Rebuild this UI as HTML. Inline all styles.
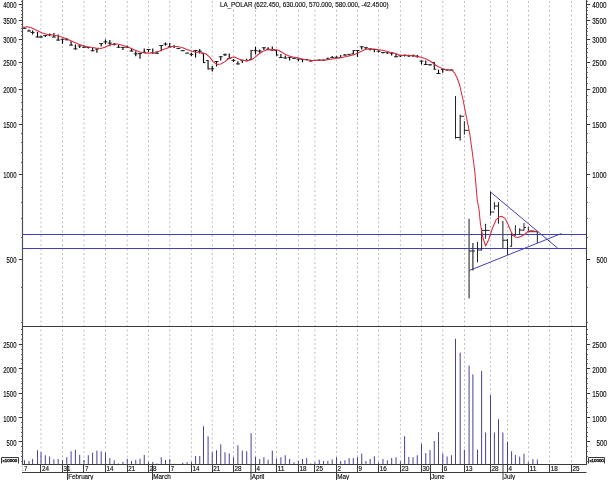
<!DOCTYPE html>
<html lang="en"><head><meta charset="utf-8"><title>LA_POLAR chart</title>
<style>
html,body{margin:0;padding:0;background:#fff;}
body{width:608px;height:480px;overflow:hidden;}
svg{display:block;font-family:"Liberation Sans",sans-serif;}
.ax{stroke:#3a3a3a;stroke-width:1;fill:none}
.gr{stroke:#c0c0c0;stroke-width:1;stroke-dasharray:2 2.5;fill:none}
.pb{stroke:#000;stroke-width:1.15;fill:none}
.rd{stroke:#dc2c3e;stroke-width:1.05;fill:none;stroke-linejoin:round}
.bl{stroke:#403eb8;stroke-width:1;fill:none}
.vb{stroke:#46429c;stroke-width:1;fill:none}
text{fill:#101010;font-size:8.2px;stroke:#101010;stroke-width:0.16px}
.pb .tk{stroke-width:0.95;stroke:#1c1c1c}
.sm{font-size:4px;fill:#111;stroke-width:0.3px}
.t2{font-size:7.6px}
.t3{font-size:6.8px}
</style></head><body>
<svg width="608" height="480" viewBox="0 0 608 480">
<rect x="0" y="0" width="608" height="480" fill="#fff"/>
<g class="gr">
<line x1="41" y1="1" x2="41" y2="464.5"/>
<line x1="62.5" y1="1" x2="62.5" y2="464.5"/>
<line x1="84" y1="1" x2="84" y2="464.5"/>
<line x1="105.5" y1="1" x2="105.5" y2="464.5"/>
<line x1="127.25" y1="1" x2="127.25" y2="464.5"/>
<line x1="148.5" y1="1" x2="148.5" y2="464.5"/>
<line x1="169.75" y1="1" x2="169.75" y2="464.5"/>
<line x1="191.4" y1="1" x2="191.4" y2="464.5"/>
<line x1="212.25" y1="1" x2="212.25" y2="464.5"/>
<line x1="233.5" y1="1" x2="233.5" y2="464.5"/>
<line x1="255.5" y1="1" x2="255.5" y2="464.5"/>
<line x1="276.5" y1="1" x2="276.5" y2="464.5"/>
<line x1="298.4" y1="1" x2="298.4" y2="464.5"/>
<line x1="314.9" y1="1" x2="314.9" y2="464.5"/>
<line x1="336.5" y1="1" x2="336.5" y2="464.5"/>
<line x1="357.5" y1="1" x2="357.5" y2="464.5"/>
<line x1="378.6" y1="1" x2="378.6" y2="464.5"/>
<line x1="400.4" y1="1" x2="400.4" y2="464.5"/>
<line x1="421.5" y1="1" x2="421.5" y2="464.5"/>
<line x1="442.75" y1="1" x2="442.75" y2="464.5"/>
<line x1="464.5" y1="1" x2="464.5" y2="464.5"/>
<line x1="490.4" y1="1" x2="490.4" y2="464.5"/>
<line x1="507.5" y1="1" x2="507.5" y2="464.5"/>
<line x1="528.5" y1="1" x2="528.5" y2="464.5"/>
<line x1="549.6" y1="1" x2="549.6" y2="464.5"/>
<line x1="571.5" y1="1" x2="571.5" y2="464.5"/>
</g>
<g class="vb">
<line x1="24.5" y1="460.25" x2="24.5" y2="464.5"/>
<line x1="29" y1="461" x2="29" y2="464.5"/>
<line x1="32.6" y1="459" x2="32.6" y2="464.5"/>
<line x1="37.5" y1="450.25" x2="37.5" y2="464.5"/>
<line x1="41" y1="452.25" x2="41" y2="464.5"/>
<line x1="45.3" y1="455.25" x2="45.3" y2="464.5"/>
<line x1="49.6" y1="456.5" x2="49.6" y2="464.5"/>
<line x1="53.9" y1="459.4" x2="53.9" y2="464.5"/>
<line x1="58.2" y1="459" x2="58.2" y2="464.5"/>
<line x1="62.5" y1="460" x2="62.5" y2="464.5"/>
<line x1="66.8" y1="457.25" x2="66.8" y2="464.5"/>
<line x1="71.1" y1="451.25" x2="71.1" y2="464.5"/>
<line x1="75.4" y1="449.75" x2="75.4" y2="464.5"/>
<line x1="79.7" y1="455" x2="79.7" y2="464.5"/>
<line x1="84" y1="460" x2="84" y2="464.5"/>
<line x1="88.3" y1="455.25" x2="88.3" y2="464.5"/>
<line x1="92.6" y1="452.75" x2="92.6" y2="464.5"/>
<line x1="96.9" y1="450.6" x2="96.9" y2="464.5"/>
<line x1="101.2" y1="451.25" x2="101.2" y2="464.5"/>
<line x1="105.5" y1="452.75" x2="105.5" y2="464.5"/>
<line x1="109.85" y1="458.1" x2="109.85" y2="464.5"/>
<line x1="114.2" y1="460.25" x2="114.2" y2="464.5"/>
<line x1="118.55" y1="463.5" x2="118.55" y2="464.5"/>
<line x1="122.9" y1="461.9" x2="122.9" y2="464.5"/>
<line x1="127.25" y1="458.75" x2="127.25" y2="464.5"/>
<line x1="131.5" y1="461" x2="131.5" y2="464.5"/>
<line x1="135.75" y1="459.75" x2="135.75" y2="464.5"/>
<line x1="140" y1="458.75" x2="140" y2="464.5"/>
<line x1="144.25" y1="455" x2="144.25" y2="464.5"/>
<line x1="148.5" y1="461.9" x2="148.5" y2="464.5"/>
<line x1="152.75" y1="461.9" x2="152.75" y2="464.5"/>
<line x1="157" y1="463.5" x2="157" y2="464.5"/>
<line x1="161.25" y1="457.25" x2="161.25" y2="464.5"/>
<line x1="165.5" y1="460" x2="165.5" y2="464.5"/>
<line x1="169.75" y1="459" x2="169.75" y2="464.5"/>
<line x1="174.08" y1="463.75" x2="174.08" y2="464.5"/>
<line x1="178.41" y1="464" x2="178.41" y2="464.5"/>
<line x1="182.74" y1="462.75" x2="182.74" y2="464.5"/>
<line x1="187.07" y1="462.25" x2="187.07" y2="464.5"/>
<line x1="191.4" y1="461.9" x2="191.4" y2="464.5"/>
<line x1="195.57" y1="456" x2="195.57" y2="464.5"/>
<line x1="199.74" y1="456" x2="199.74" y2="464.5"/>
<line x1="203.5" y1="426.25" x2="203.5" y2="464.5"/>
<line x1="208.08" y1="436.25" x2="208.08" y2="464.5"/>
<line x1="212.25" y1="452.25" x2="212.25" y2="464.5"/>
<line x1="216.5" y1="450.25" x2="216.5" y2="464.5"/>
<line x1="220.75" y1="444.4" x2="220.75" y2="464.5"/>
<line x1="225" y1="452.25" x2="225" y2="464.5"/>
<line x1="229.25" y1="453.5" x2="229.25" y2="464.5"/>
<line x1="233.5" y1="457.25" x2="233.5" y2="464.5"/>
<line x1="237.9" y1="445.25" x2="237.9" y2="464.5"/>
<line x1="242.3" y1="450.6" x2="242.3" y2="464.5"/>
<line x1="246.7" y1="451.25" x2="246.7" y2="464.5"/>
<line x1="251.1" y1="433.1" x2="251.1" y2="464.5"/>
<line x1="255.5" y1="456.9" x2="255.5" y2="464.5"/>
<line x1="259.7" y1="459" x2="259.7" y2="464.5"/>
<line x1="263.9" y1="457.25" x2="263.9" y2="464.5"/>
<line x1="268.1" y1="459.75" x2="268.1" y2="464.5"/>
<line x1="272.3" y1="450.6" x2="272.3" y2="464.5"/>
<line x1="276.5" y1="458.5" x2="276.5" y2="464.5"/>
<line x1="280.88" y1="457.25" x2="280.88" y2="464.5"/>
<line x1="285.26" y1="455.25" x2="285.26" y2="464.5"/>
<line x1="289.64" y1="459" x2="289.64" y2="464.5"/>
<line x1="294.02" y1="462.25" x2="294.02" y2="464.5"/>
<line x1="298.4" y1="461" x2="298.4" y2="464.5"/>
<line x1="302.52" y1="459" x2="302.52" y2="464.5"/>
<line x1="306.65" y1="458.1" x2="306.65" y2="464.5"/>
<line x1="310.77" y1="463.5" x2="310.77" y2="464.5"/>
<line x1="314.9" y1="462.25" x2="314.9" y2="464.5"/>
<line x1="319.22" y1="459.75" x2="319.22" y2="464.5"/>
<line x1="323.54" y1="461" x2="323.54" y2="464.5"/>
<line x1="327.86" y1="461" x2="327.86" y2="464.5"/>
<line x1="332.18" y1="459.4" x2="332.18" y2="464.5"/>
<line x1="336.5" y1="457.25" x2="336.5" y2="464.5"/>
<line x1="340.7" y1="461" x2="340.7" y2="464.5"/>
<line x1="344.9" y1="460.25" x2="344.9" y2="464.5"/>
<line x1="349.1" y1="458.1" x2="349.1" y2="464.5"/>
<line x1="353.3" y1="458.1" x2="353.3" y2="464.5"/>
<line x1="357.5" y1="457.25" x2="357.5" y2="464.5"/>
<line x1="361.72" y1="453.5" x2="361.72" y2="464.5"/>
<line x1="365.94" y1="461" x2="365.94" y2="464.5"/>
<line x1="370.16" y1="459" x2="370.16" y2="464.5"/>
<line x1="374.38" y1="456.25" x2="374.38" y2="464.5"/>
<line x1="378.6" y1="462.25" x2="378.6" y2="464.5"/>
<line x1="382.96" y1="459" x2="382.96" y2="464.5"/>
<line x1="387.32" y1="460.25" x2="387.32" y2="464.5"/>
<line x1="391.68" y1="458.1" x2="391.68" y2="464.5"/>
<line x1="396.04" y1="457.25" x2="396.04" y2="464.5"/>
<line x1="400.4" y1="461.25" x2="400.4" y2="464.5"/>
<line x1="404.62" y1="436.25" x2="404.62" y2="464.5"/>
<line x1="408.84" y1="456.9" x2="408.84" y2="464.5"/>
<line x1="413.06" y1="457.25" x2="413.06" y2="464.5"/>
<line x1="417.28" y1="455.25" x2="417.28" y2="464.5"/>
<line x1="421.5" y1="444" x2="421.5" y2="464.5"/>
<line x1="425.75" y1="453.1" x2="425.75" y2="464.5"/>
<line x1="430" y1="450" x2="430" y2="464.5"/>
<line x1="434.25" y1="441" x2="434.25" y2="464.5"/>
<line x1="438.5" y1="432.25" x2="438.5" y2="464.5"/>
<line x1="442.75" y1="453.5" x2="442.75" y2="464.5"/>
<line x1="447.1" y1="456.5" x2="447.1" y2="464.5"/>
<line x1="451.45" y1="455.25" x2="451.45" y2="464.5"/>
<line x1="455.5" y1="338.8" x2="455.5" y2="464.5"/>
<line x1="460.2" y1="352.6" x2="460.2" y2="464.5"/>
<line x1="464.4" y1="449.75" x2="464.4" y2="464.5"/>
<line x1="469.1" y1="365.5" x2="469.1" y2="464.5"/>
<line x1="472.9" y1="374.4" x2="472.9" y2="464.5"/>
<line x1="477.5" y1="449.7" x2="477.5" y2="464.5"/>
<line x1="481.6" y1="371" x2="481.6" y2="464.5"/>
<line x1="485.6" y1="432.5" x2="485.6" y2="464.5"/>
<line x1="490.5" y1="395" x2="490.5" y2="464.5"/>
<line x1="494.4" y1="432.5" x2="494.4" y2="464.5"/>
<line x1="498.5" y1="419.2" x2="498.5" y2="464.5"/>
<line x1="502.85" y1="432.5" x2="502.85" y2="464.5"/>
<line x1="507.5" y1="441.7" x2="507.5" y2="464.5"/>
<line x1="511.6" y1="451.3" x2="511.6" y2="464.5"/>
<line x1="515.4" y1="455" x2="515.4" y2="464.5"/>
<line x1="519.65" y1="456.7" x2="519.65" y2="464.5"/>
<line x1="524" y1="453.7" x2="524" y2="464.5"/>
<line x1="528.35" y1="462" x2="528.35" y2="464.5"/>
<line x1="532.9" y1="459.2" x2="532.9" y2="464.5"/>
<line x1="537.35" y1="459.5" x2="537.35" y2="464.5"/>
</g>
<g class="bl">
<line x1="22.5" y1="234.55" x2="586.5" y2="234.55" stroke-width="1.1"/>
<line x1="22.5" y1="248.55" x2="586.5" y2="248.55" stroke-width="1.1"/>
<line x1="490.4" y1="191.9" x2="557.6" y2="248.1"/>
<line x1="469.1" y1="270.6" x2="561.4" y2="233.5"/>
</g>
<g class="pb">
<line x1="24.5" y1="27.5" x2="24.5" y2="28.75"/>
<line x1="22.5" y1="28.25" x2="24.5" y2="28.25" class="tk"/>
<line x1="24.5" y1="28.25" x2="26.5" y2="28.25" class="tk"/>
<line x1="29" y1="29.4" x2="29" y2="31.5"/>
<line x1="27" y1="31" x2="29" y2="31" class="tk"/>
<line x1="29" y1="31" x2="31" y2="31" class="tk"/>
<line x1="32.6" y1="30.6" x2="32.6" y2="34.4"/>
<line x1="30.6" y1="32.5" x2="32.6" y2="32.5" class="tk"/>
<line x1="32.6" y1="32.5" x2="34.6" y2="32.5" class="tk"/>
<line x1="37.5" y1="31.9" x2="37.5" y2="37.5"/>
<line x1="35.5" y1="37" x2="37.5" y2="37" class="tk"/>
<line x1="37.5" y1="37" x2="39.5" y2="37" class="tk"/>
<line x1="41" y1="35.6" x2="41" y2="37.5"/>
<line x1="39" y1="37" x2="41" y2="37" class="tk"/>
<line x1="41" y1="37" x2="43" y2="37" class="tk"/>
<line x1="45.3" y1="35" x2="45.3" y2="36.9"/>
<line x1="43.3" y1="35.5" x2="45.3" y2="35.5" class="tk"/>
<line x1="45.3" y1="35.5" x2="47.3" y2="35.5" class="tk"/>
<line x1="49.6" y1="33.5" x2="49.6" y2="36.25"/>
<line x1="47.6" y1="34.88" x2="49.6" y2="34.88" class="tk"/>
<line x1="49.6" y1="34.88" x2="51.6" y2="34.88" class="tk"/>
<line x1="53.9" y1="33.1" x2="53.9" y2="37.5"/>
<line x1="51.9" y1="37" x2="53.9" y2="37" class="tk"/>
<line x1="53.9" y1="37" x2="55.9" y2="37" class="tk"/>
<line x1="58.2" y1="34.4" x2="58.2" y2="40.6"/>
<line x1="56.2" y1="40.1" x2="58.2" y2="40.1" class="tk"/>
<line x1="58.2" y1="40.1" x2="60.2" y2="40.1" class="tk"/>
<line x1="62.5" y1="38.75" x2="62.5" y2="43.75"/>
<line x1="60.5" y1="39.25" x2="62.5" y2="39.25" class="tk"/>
<line x1="62.5" y1="39.25" x2="64.5" y2="39.25" class="tk"/>
<line x1="66.8" y1="38.1" x2="66.8" y2="40.25"/>
<line x1="64.8" y1="39.75" x2="66.8" y2="39.75" class="tk"/>
<line x1="66.8" y1="39.75" x2="68.8" y2="39.75" class="tk"/>
<line x1="71.1" y1="41.25" x2="71.1" y2="45.6"/>
<line x1="69.1" y1="45.1" x2="71.1" y2="45.1" class="tk"/>
<line x1="71.1" y1="45.1" x2="73.1" y2="45.1" class="tk"/>
<line x1="75.4" y1="44.4" x2="75.4" y2="49.4"/>
<line x1="73.4" y1="48.9" x2="75.4" y2="48.9" class="tk"/>
<line x1="75.4" y1="48.9" x2="77.4" y2="48.9" class="tk"/>
<line x1="79.7" y1="45.4" x2="79.7" y2="48.1"/>
<line x1="77.7" y1="45.9" x2="79.7" y2="45.9" class="tk"/>
<line x1="79.7" y1="45.9" x2="81.7" y2="45.9" class="tk"/>
<line x1="84" y1="45.6" x2="84" y2="47.75"/>
<line x1="82" y1="47.25" x2="84" y2="47.25" class="tk"/>
<line x1="84" y1="47.25" x2="86" y2="47.25" class="tk"/>
<line x1="88.3" y1="46.9" x2="88.3" y2="48.5"/>
<line x1="86.3" y1="47.4" x2="88.3" y2="47.4" class="tk"/>
<line x1="88.3" y1="47.4" x2="90.3" y2="47.4" class="tk"/>
<line x1="92.6" y1="48.1" x2="92.6" y2="51.25"/>
<line x1="90.6" y1="50.75" x2="92.6" y2="50.75" class="tk"/>
<line x1="92.6" y1="50.75" x2="94.6" y2="50.75" class="tk"/>
<line x1="96.9" y1="48.5" x2="96.9" y2="52.75"/>
<line x1="94.9" y1="49" x2="96.9" y2="49" class="tk"/>
<line x1="96.9" y1="49" x2="98.9" y2="49" class="tk"/>
<line x1="101.2" y1="43.1" x2="101.2" y2="46.5"/>
<line x1="99.2" y1="43.6" x2="101.2" y2="43.6" class="tk"/>
<line x1="101.2" y1="43.6" x2="103.2" y2="43.6" class="tk"/>
<line x1="105.5" y1="39.4" x2="105.5" y2="44.4"/>
<line x1="103.5" y1="41.9" x2="105.5" y2="41.9" class="tk"/>
<line x1="105.5" y1="41.9" x2="107.5" y2="41.9" class="tk"/>
<line x1="109.85" y1="40" x2="109.85" y2="46.25"/>
<line x1="107.85" y1="43.12" x2="109.85" y2="43.12" class="tk"/>
<line x1="109.85" y1="43.12" x2="111.85" y2="43.12" class="tk"/>
<line x1="114.2" y1="43.1" x2="114.2" y2="45.6"/>
<line x1="112.2" y1="44.35" x2="114.2" y2="44.35" class="tk"/>
<line x1="114.2" y1="44.35" x2="116.2" y2="44.35" class="tk"/>
<line x1="118.55" y1="45" x2="118.55" y2="47.75"/>
<line x1="116.55" y1="47.25" x2="118.55" y2="47.25" class="tk"/>
<line x1="118.55" y1="47.25" x2="120.55" y2="47.25" class="tk"/>
<line x1="122.9" y1="46.9" x2="122.9" y2="50"/>
<line x1="120.9" y1="47.4" x2="122.9" y2="47.4" class="tk"/>
<line x1="122.9" y1="47.4" x2="124.9" y2="47.4" class="tk"/>
<line x1="127.25" y1="45.6" x2="127.25" y2="47.75"/>
<line x1="125.25" y1="47.25" x2="127.25" y2="47.25" class="tk"/>
<line x1="127.25" y1="47.25" x2="129.25" y2="47.25" class="tk"/>
<line x1="131.5" y1="48.1" x2="131.5" y2="51.5"/>
<line x1="129.5" y1="51" x2="131.5" y2="51" class="tk"/>
<line x1="131.5" y1="51" x2="133.5" y2="51" class="tk"/>
<line x1="135.75" y1="51.25" x2="135.75" y2="56.25"/>
<line x1="133.75" y1="53.75" x2="135.75" y2="53.75" class="tk"/>
<line x1="135.75" y1="53.75" x2="137.75" y2="53.75" class="tk"/>
<line x1="140" y1="53.1" x2="140" y2="58.75"/>
<line x1="138" y1="53.6" x2="140" y2="53.6" class="tk"/>
<line x1="140" y1="53.6" x2="142" y2="53.6" class="tk"/>
<line x1="144.25" y1="48.5" x2="144.25" y2="52.75"/>
<line x1="142.25" y1="52.25" x2="144.25" y2="52.25" class="tk"/>
<line x1="144.25" y1="52.25" x2="146.25" y2="52.25" class="tk"/>
<line x1="148.5" y1="49" x2="148.5" y2="51.9"/>
<line x1="146.5" y1="49.5" x2="148.5" y2="49.5" class="tk"/>
<line x1="148.5" y1="49.5" x2="150.5" y2="49.5" class="tk"/>
<line x1="152.75" y1="48.5" x2="152.75" y2="53.5"/>
<line x1="150.75" y1="53" x2="152.75" y2="53" class="tk"/>
<line x1="152.75" y1="53" x2="154.75" y2="53" class="tk"/>
<line x1="157" y1="51.25" x2="157" y2="53.75"/>
<line x1="155" y1="53.25" x2="157" y2="53.25" class="tk"/>
<line x1="157" y1="53.25" x2="159" y2="53.25" class="tk"/>
<line x1="161.25" y1="45" x2="161.25" y2="51.25"/>
<line x1="159.25" y1="45.5" x2="161.25" y2="45.5" class="tk"/>
<line x1="161.25" y1="45.5" x2="163.25" y2="45.5" class="tk"/>
<line x1="165.5" y1="42.5" x2="165.5" y2="45.6"/>
<line x1="163.5" y1="44.05" x2="165.5" y2="44.05" class="tk"/>
<line x1="165.5" y1="44.05" x2="167.5" y2="44.05" class="tk"/>
<line x1="169.75" y1="43.1" x2="169.75" y2="47.25"/>
<line x1="167.75" y1="46.75" x2="169.75" y2="46.75" class="tk"/>
<line x1="169.75" y1="46.75" x2="171.75" y2="46.75" class="tk"/>
<line x1="174.08" y1="45" x2="174.08" y2="48.1"/>
<line x1="172.08" y1="46.55" x2="174.08" y2="46.55" class="tk"/>
<line x1="174.08" y1="46.55" x2="176.08" y2="46.55" class="tk"/>
<line x1="178.41" y1="48.1" x2="178.41" y2="49"/>
<line x1="176.41" y1="48.55" x2="178.41" y2="48.55" class="tk"/>
<line x1="178.41" y1="48.55" x2="180.41" y2="48.55" class="tk"/>
<line x1="182.74" y1="50" x2="182.74" y2="51.25"/>
<line x1="180.74" y1="50.62" x2="182.74" y2="50.62" class="tk"/>
<line x1="182.74" y1="50.62" x2="184.74" y2="50.62" class="tk"/>
<line x1="187.07" y1="52.75" x2="187.07" y2="53.5"/>
<line x1="185.07" y1="53.12" x2="187.07" y2="53.12" class="tk"/>
<line x1="187.07" y1="53.12" x2="189.07" y2="53.12" class="tk"/>
<line x1="191.4" y1="52.75" x2="191.4" y2="56"/>
<line x1="189.4" y1="54.38" x2="191.4" y2="54.38" class="tk"/>
<line x1="191.4" y1="54.38" x2="193.4" y2="54.38" class="tk"/>
<line x1="195.57" y1="50" x2="195.57" y2="57.5"/>
<line x1="193.57" y1="50.5" x2="195.57" y2="50.5" class="tk"/>
<line x1="195.57" y1="50.5" x2="197.57" y2="50.5" class="tk"/>
<line x1="199.74" y1="49" x2="199.74" y2="53.5"/>
<line x1="197.74" y1="51.25" x2="199.74" y2="51.25" class="tk"/>
<line x1="199.74" y1="51.25" x2="201.74" y2="51.25" class="tk"/>
<line x1="203.5" y1="53.1" x2="203.5" y2="63.1"/>
<line x1="201.5" y1="53.6" x2="203.5" y2="53.6" class="tk"/>
<line x1="203.5" y1="62.6" x2="205.5" y2="62.6" class="tk"/>
<line x1="208.08" y1="60" x2="208.08" y2="69.4" stroke-width="1.5" stroke="#444"/>
<line x1="206.08" y1="60.5" x2="208.08" y2="60.5" class="tk"/>
<line x1="208.08" y1="68.9" x2="210.08" y2="68.9" class="tk"/>
<line x1="212.25" y1="66" x2="212.25" y2="71.5"/>
<line x1="210.25" y1="68.75" x2="212.25" y2="68.75" class="tk"/>
<line x1="212.25" y1="68.75" x2="214.25" y2="68.75" class="tk"/>
<line x1="216.5" y1="61" x2="216.5" y2="66.5"/>
<line x1="214.5" y1="61.5" x2="216.5" y2="61.5" class="tk"/>
<line x1="216.5" y1="61.5" x2="218.5" y2="61.5" class="tk"/>
<line x1="220.75" y1="56.25" x2="220.75" y2="60.6"/>
<line x1="218.75" y1="56.75" x2="220.75" y2="56.75" class="tk"/>
<line x1="220.75" y1="56.75" x2="222.75" y2="56.75" class="tk"/>
<line x1="225" y1="53.5" x2="225" y2="56"/>
<line x1="223" y1="54.75" x2="225" y2="54.75" class="tk"/>
<line x1="225" y1="54.75" x2="227" y2="54.75" class="tk"/>
<line x1="229.25" y1="53.5" x2="229.25" y2="59"/>
<line x1="227.25" y1="58.5" x2="229.25" y2="58.5" class="tk"/>
<line x1="229.25" y1="58.5" x2="231.25" y2="58.5" class="tk"/>
<line x1="233.5" y1="59" x2="233.5" y2="61.9"/>
<line x1="231.5" y1="60.45" x2="233.5" y2="60.45" class="tk"/>
<line x1="233.5" y1="60.45" x2="235.5" y2="60.45" class="tk"/>
<line x1="237.9" y1="61.25" x2="237.9" y2="64.4"/>
<line x1="235.9" y1="63.9" x2="237.9" y2="63.9" class="tk"/>
<line x1="237.9" y1="63.9" x2="239.9" y2="63.9" class="tk"/>
<line x1="242.3" y1="59.75" x2="242.3" y2="63.1"/>
<line x1="240.3" y1="60.25" x2="242.3" y2="60.25" class="tk"/>
<line x1="242.3" y1="60.25" x2="244.3" y2="60.25" class="tk"/>
<line x1="246.7" y1="58.75" x2="246.7" y2="61.25"/>
<line x1="244.7" y1="60.75" x2="246.7" y2="60.75" class="tk"/>
<line x1="246.7" y1="60.75" x2="248.7" y2="60.75" class="tk"/>
<line x1="251.1" y1="50" x2="251.1" y2="60" stroke-width="1.5" stroke="#444"/>
<line x1="249.1" y1="59.5" x2="251.1" y2="59.5" class="tk"/>
<line x1="251.1" y1="50.5" x2="253.1" y2="50.5" class="tk"/>
<line x1="255.5" y1="46.9" x2="255.5" y2="54.4"/>
<line x1="253.5" y1="50.65" x2="255.5" y2="50.65" class="tk"/>
<line x1="255.5" y1="50.65" x2="257.5" y2="50.65" class="tk"/>
<line x1="259.7" y1="49.4" x2="259.7" y2="52.75"/>
<line x1="257.7" y1="51.08" x2="259.7" y2="51.08" class="tk"/>
<line x1="259.7" y1="51.08" x2="261.7" y2="51.08" class="tk"/>
<line x1="263.9" y1="47.25" x2="263.9" y2="50"/>
<line x1="261.9" y1="47.75" x2="263.9" y2="47.75" class="tk"/>
<line x1="263.9" y1="47.75" x2="265.9" y2="47.75" class="tk"/>
<line x1="268.1" y1="47.25" x2="268.1" y2="49.75"/>
<line x1="266.1" y1="49.25" x2="268.1" y2="49.25" class="tk"/>
<line x1="268.1" y1="49.25" x2="270.1" y2="49.25" class="tk"/>
<line x1="272.3" y1="46.5" x2="272.3" y2="50.6"/>
<line x1="270.3" y1="50.1" x2="272.3" y2="50.1" class="tk"/>
<line x1="272.3" y1="50.1" x2="274.3" y2="50.1" class="tk"/>
<line x1="276.5" y1="50" x2="276.5" y2="55.6"/>
<line x1="274.5" y1="50.5" x2="276.5" y2="50.5" class="tk"/>
<line x1="276.5" y1="55.1" x2="278.5" y2="55.1" class="tk"/>
<line x1="280.88" y1="54" x2="280.88" y2="58.1"/>
<line x1="278.88" y1="57.6" x2="280.88" y2="57.6" class="tk"/>
<line x1="280.88" y1="57.6" x2="282.88" y2="57.6" class="tk"/>
<line x1="285.26" y1="55.6" x2="285.26" y2="58.5"/>
<line x1="283.26" y1="58" x2="285.26" y2="58" class="tk"/>
<line x1="285.26" y1="58" x2="287.26" y2="58" class="tk"/>
<line x1="289.64" y1="56.9" x2="289.64" y2="60.6"/>
<line x1="287.64" y1="57.4" x2="289.64" y2="57.4" class="tk"/>
<line x1="289.64" y1="57.4" x2="291.64" y2="57.4" class="tk"/>
<line x1="294.02" y1="57.5" x2="294.02" y2="59"/>
<line x1="292.02" y1="58.25" x2="294.02" y2="58.25" class="tk"/>
<line x1="294.02" y1="58.25" x2="296.02" y2="58.25" class="tk"/>
<line x1="298.4" y1="58.5" x2="298.4" y2="61.25"/>
<line x1="296.4" y1="59" x2="298.4" y2="59" class="tk"/>
<line x1="298.4" y1="59" x2="300.4" y2="59" class="tk"/>
<line x1="302.52" y1="59" x2="302.52" y2="62.25"/>
<line x1="300.52" y1="59.5" x2="302.52" y2="59.5" class="tk"/>
<line x1="302.52" y1="59.5" x2="304.52" y2="59.5" class="tk"/>
<line x1="306.65" y1="59" x2="306.65" y2="60.25"/>
<line x1="304.65" y1="59.62" x2="306.65" y2="59.62" class="tk"/>
<line x1="306.65" y1="59.62" x2="308.65" y2="59.62" class="tk"/>
<line x1="310.77" y1="59.75" x2="310.77" y2="61.5"/>
<line x1="308.77" y1="61" x2="310.77" y2="61" class="tk"/>
<line x1="310.77" y1="61" x2="312.77" y2="61" class="tk"/>
<line x1="314.9" y1="59.75" x2="314.9" y2="61"/>
<line x1="312.9" y1="60.38" x2="314.9" y2="60.38" class="tk"/>
<line x1="314.9" y1="60.38" x2="316.9" y2="60.38" class="tk"/>
<line x1="319.22" y1="59.5" x2="319.22" y2="60.75"/>
<line x1="317.22" y1="60.12" x2="319.22" y2="60.12" class="tk"/>
<line x1="319.22" y1="60.12" x2="321.22" y2="60.12" class="tk"/>
<line x1="323.54" y1="59.5" x2="323.54" y2="60.75"/>
<line x1="321.54" y1="60.12" x2="323.54" y2="60.12" class="tk"/>
<line x1="323.54" y1="60.12" x2="325.54" y2="60.12" class="tk"/>
<line x1="327.86" y1="57.5" x2="327.86" y2="59.4"/>
<line x1="325.86" y1="58.9" x2="327.86" y2="58.9" class="tk"/>
<line x1="327.86" y1="58.9" x2="329.86" y2="58.9" class="tk"/>
<line x1="332.18" y1="56" x2="332.18" y2="58.1"/>
<line x1="330.18" y1="57.6" x2="332.18" y2="57.6" class="tk"/>
<line x1="332.18" y1="57.6" x2="334.18" y2="57.6" class="tk"/>
<line x1="336.5" y1="56.25" x2="336.5" y2="57.75"/>
<line x1="334.5" y1="57.25" x2="336.5" y2="57.25" class="tk"/>
<line x1="336.5" y1="57.25" x2="338.5" y2="57.25" class="tk"/>
<line x1="340.7" y1="55" x2="340.7" y2="58.1"/>
<line x1="338.7" y1="57.6" x2="340.7" y2="57.6" class="tk"/>
<line x1="340.7" y1="57.6" x2="342.7" y2="57.6" class="tk"/>
<line x1="344.9" y1="54" x2="344.9" y2="55.6"/>
<line x1="342.9" y1="55.1" x2="344.9" y2="55.1" class="tk"/>
<line x1="344.9" y1="55.1" x2="346.9" y2="55.1" class="tk"/>
<line x1="349.1" y1="53.75" x2="349.1" y2="55.25"/>
<line x1="347.1" y1="54.75" x2="349.1" y2="54.75" class="tk"/>
<line x1="349.1" y1="54.75" x2="351.1" y2="54.75" class="tk"/>
<line x1="353.3" y1="50" x2="353.3" y2="54.4"/>
<line x1="351.3" y1="53.9" x2="353.3" y2="53.9" class="tk"/>
<line x1="353.3" y1="50.5" x2="355.3" y2="50.5" class="tk"/>
<line x1="357.5" y1="50" x2="357.5" y2="56.9"/>
<line x1="355.5" y1="50.5" x2="357.5" y2="50.5" class="tk"/>
<line x1="357.5" y1="50.5" x2="359.5" y2="50.5" class="tk"/>
<line x1="361.72" y1="46.25" x2="361.72" y2="49.4"/>
<line x1="359.72" y1="46.75" x2="361.72" y2="46.75" class="tk"/>
<line x1="361.72" y1="46.75" x2="363.72" y2="46.75" class="tk"/>
<line x1="365.94" y1="47.25" x2="365.94" y2="49.4"/>
<line x1="363.94" y1="47.75" x2="365.94" y2="47.75" class="tk"/>
<line x1="365.94" y1="47.75" x2="367.94" y2="47.75" class="tk"/>
<line x1="370.16" y1="48.5" x2="370.16" y2="50.6"/>
<line x1="368.16" y1="49" x2="370.16" y2="49" class="tk"/>
<line x1="370.16" y1="49" x2="372.16" y2="49" class="tk"/>
<line x1="374.38" y1="49" x2="374.38" y2="52.25"/>
<line x1="372.38" y1="49.5" x2="374.38" y2="49.5" class="tk"/>
<line x1="374.38" y1="49.5" x2="376.38" y2="49.5" class="tk"/>
<line x1="378.6" y1="50.6" x2="378.6" y2="52.5"/>
<line x1="376.6" y1="51.1" x2="378.6" y2="51.1" class="tk"/>
<line x1="378.6" y1="51.1" x2="380.6" y2="51.1" class="tk"/>
<line x1="382.96" y1="51.9" x2="382.96" y2="53.5"/>
<line x1="380.96" y1="52.4" x2="382.96" y2="52.4" class="tk"/>
<line x1="382.96" y1="52.4" x2="384.96" y2="52.4" class="tk"/>
<line x1="387.32" y1="52.25" x2="387.32" y2="53.75"/>
<line x1="385.32" y1="52.75" x2="387.32" y2="52.75" class="tk"/>
<line x1="387.32" y1="52.75" x2="389.32" y2="52.75" class="tk"/>
<line x1="391.68" y1="52.75" x2="391.68" y2="55.6"/>
<line x1="389.68" y1="53.25" x2="391.68" y2="53.25" class="tk"/>
<line x1="391.68" y1="53.25" x2="393.68" y2="53.25" class="tk"/>
<line x1="396.04" y1="53.5" x2="396.04" y2="57.25"/>
<line x1="394.04" y1="56.75" x2="396.04" y2="56.75" class="tk"/>
<line x1="396.04" y1="56.75" x2="398.04" y2="56.75" class="tk"/>
<line x1="400.4" y1="54.75" x2="400.4" y2="56.9"/>
<line x1="398.4" y1="55.83" x2="400.4" y2="55.83" class="tk"/>
<line x1="400.4" y1="55.83" x2="402.4" y2="55.83" class="tk"/>
<line x1="404.62" y1="54.4" x2="404.62" y2="56.5"/>
<line x1="402.62" y1="55.45" x2="404.62" y2="55.45" class="tk"/>
<line x1="404.62" y1="55.45" x2="406.62" y2="55.45" class="tk"/>
<line x1="408.84" y1="54.75" x2="408.84" y2="56.9"/>
<line x1="406.84" y1="55.83" x2="408.84" y2="55.83" class="tk"/>
<line x1="408.84" y1="55.83" x2="410.84" y2="55.83" class="tk"/>
<line x1="413.06" y1="54.4" x2="413.06" y2="56.9"/>
<line x1="411.06" y1="55.65" x2="413.06" y2="55.65" class="tk"/>
<line x1="413.06" y1="55.65" x2="415.06" y2="55.65" class="tk"/>
<line x1="417.28" y1="55" x2="417.28" y2="57.75"/>
<line x1="415.28" y1="56.38" x2="417.28" y2="56.38" class="tk"/>
<line x1="417.28" y1="56.38" x2="419.28" y2="56.38" class="tk"/>
<line x1="421.5" y1="60.6" x2="421.5" y2="64.4"/>
<line x1="419.5" y1="61.1" x2="421.5" y2="61.1" class="tk"/>
<line x1="421.5" y1="61.1" x2="423.5" y2="61.1" class="tk"/>
<line x1="425.75" y1="60.6" x2="425.75" y2="65"/>
<line x1="423.75" y1="64.5" x2="425.75" y2="64.5" class="tk"/>
<line x1="425.75" y1="64.5" x2="427.75" y2="64.5" class="tk"/>
<line x1="430" y1="64" x2="430" y2="65.6"/>
<line x1="428" y1="64.8" x2="430" y2="64.8" class="tk"/>
<line x1="430" y1="64.8" x2="432" y2="64.8" class="tk"/>
<line x1="434.25" y1="61.9" x2="434.25" y2="69.75"/>
<line x1="432.25" y1="62.4" x2="434.25" y2="62.4" class="tk"/>
<line x1="434.25" y1="69.25" x2="436.25" y2="69.25" class="tk"/>
<line x1="438.5" y1="69.75" x2="438.5" y2="74"/>
<line x1="436.5" y1="73.5" x2="438.5" y2="73.5" class="tk"/>
<line x1="438.5" y1="73.5" x2="440.5" y2="73.5" class="tk"/>
<line x1="442.75" y1="69" x2="442.75" y2="72.75"/>
<line x1="440.75" y1="69.5" x2="442.75" y2="69.5" class="tk"/>
<line x1="442.75" y1="69.5" x2="444.75" y2="69.5" class="tk"/>
<line x1="447.1" y1="69.4" x2="447.1" y2="70.6"/>
<line x1="445.1" y1="70" x2="447.1" y2="70" class="tk"/>
<line x1="447.1" y1="70" x2="449.1" y2="70" class="tk"/>
<line x1="451.45" y1="69.4" x2="451.45" y2="70.6"/>
<line x1="449.45" y1="70" x2="451.45" y2="70" class="tk"/>
<line x1="451.45" y1="70" x2="453.45" y2="70" class="tk"/>
<line x1="455.5" y1="96" x2="455.5" y2="138.75" stroke-width="1" stroke="#242424"/>
<line x1="455.5" y1="137.5" x2="460.2" y2="137.5" class="tk"/>
<line x1="460.2" y1="114.75" x2="460.2" y2="140.6" stroke-width="1.2" stroke="#333"/>
<line x1="460.2" y1="116.25" x2="464.2" y2="116.25" class="tk"/>
<line x1="464.4" y1="121.1" x2="464.4" y2="134.6" stroke-width="1" stroke="#242424"/>
<line x1="464.4" y1="130.3" x2="468.9" y2="130.3" class="tk"/>
<line x1="469.1" y1="218.75" x2="469.1" y2="298.5" stroke-width="1.35" stroke="#555"/>
<line x1="469.1" y1="251" x2="472.9" y2="251" class="tk"/>
<line x1="472.9" y1="243.1" x2="472.9" y2="270.6" stroke-width="1.2" stroke="#333"/>
<line x1="472.9" y1="251" x2="475" y2="251" class="tk"/>
<line x1="477.5" y1="241.9" x2="477.5" y2="262.25" stroke-width="1" stroke="#242424"/>
<line x1="477.5" y1="250" x2="481.6" y2="250" class="tk"/>
<line x1="481.6" y1="228" x2="481.6" y2="250.6" stroke-width="1" stroke="#242424"/>
<line x1="481.6" y1="230.4" x2="485.6" y2="230.4" class="tk"/>
<line x1="485.6" y1="223.75" x2="485.6" y2="238.75" stroke-width="1" stroke="#242424"/>
<line x1="485.6" y1="230.4" x2="489.6" y2="230.4" class="tk"/>
<line x1="490.5" y1="191.9" x2="490.5" y2="215.6" stroke-width="1" stroke="#242424"/>
<line x1="490.5" y1="212" x2="494.3" y2="212" class="tk"/>
<line x1="494.4" y1="202.25" x2="494.4" y2="209.6" stroke-width="1" stroke="#242424"/>
<line x1="494.4" y1="206" x2="498.5" y2="206" class="tk"/>
<line x1="498.5" y1="202.25" x2="498.5" y2="223.75" stroke-width="1" stroke="#242424"/>
<line x1="502.85" y1="221.1" x2="502.85" y2="247.9" stroke-width="1.35" stroke="#555"/>
<line x1="502.85" y1="240.25" x2="507.4" y2="240.25" class="tk"/>
<line x1="507.5" y1="239" x2="507.5" y2="255" stroke-width="1" stroke="#242424"/>
<line x1="511.6" y1="232.4" x2="511.6" y2="246.6" stroke-width="1" stroke="#242424"/>
<line x1="510" y1="246.3" x2="511.6" y2="246.3" class="tk"/>
<line x1="511.6" y1="235" x2="515.4" y2="235" class="tk"/>
<line x1="515.4" y1="225.25" x2="515.4" y2="235.75" stroke-width="1" stroke="#242424"/>
<line x1="519.65" y1="228.25" x2="519.65" y2="234.6" stroke-width="1" stroke="#242424"/>
<line x1="519.65" y1="230.1" x2="524" y2="230.1" class="tk"/>
<line x1="524" y1="223" x2="524" y2="230.5" stroke-width="1" stroke="#242424"/>
<line x1="524" y1="227.5" x2="526" y2="227.5" class="tk"/>
<line x1="528.35" y1="226.75" x2="528.35" y2="232.4" stroke-width="1" stroke="#242424"/>
<line x1="528.35" y1="231.7" x2="537.3" y2="231.7" class="tk"/>
<line x1="537.35" y1="231.25" x2="537.35" y2="242.9" stroke-width="1" stroke="#242424"/>
</g>
<path class="rd" d="M22.5 27.5 L27.5 26.75 L32.5 28.25 L37.5 30.75 L42.5 33 L47.5 34.5 L52.5 35 L57.5 35.75 L62.5 37.25 L67.5 39.25 L72.5 41.5 L77.5 43.75 L82.5 45.5 L87.5 46.75 L92.5 47.5 L96 48.1 L101 48.5 L105.4 46.9 L109.75 45 L114.75 43.75 L119.75 44.4 L124.75 45.9 L129.75 47.75 L134.75 50 L139.75 52.1 L144.75 53.1 L149.75 53.1 L154.75 52.25 L159.75 50.9 L164.75 49 L169.75 47.25 L172 46.5 L177 46.5 L182 47.5 L187 49.4 L192 51.25 L197 52.5 L202 52.75 L205.75 53.75 L209.5 56.9 L213.25 61.9 L217 64.4 L220.75 64 L224.5 61.9 L228.25 59 L232 57.25 L234.5 57.1 L238.25 58.75 L242 60.25 L245.75 60.6 L248 60.6 L251.75 59.75 L255.5 56.9 L259.25 53.75 L263 51.25 L266.75 50 L270.5 49.6 L274.25 49.6 L278 50 L281.75 52.25 L285.5 54.4 L289.25 56 L293 57.1 L296.75 57.5 L300.5 58.5 L304.25 59.4 L308 60 L311.75 60.4 L315.5 60.4 L319.25 60.25 L324 60.25 L329 59.4 L334 58.75 L339 58.1 L344 56.9 L349 55.9 L354 54.75 L357.75 53.1 L361.5 51.25 L365.25 49.6 L369 48.75 L374 49 L379 49.75 L384 50.6 L389 51.9 L394 53.1 L400 55.3 L405 55.25 L410 55.6 L415 56 L420 56.9 L425 58.5 L430 61 L433.75 63.75 L437.5 66.25 L441.25 68.1 L445 69.4 L448.75 69.75 L452.5 70.6 L455 73.75 L457.5 78.75 L460 86.25 L461.9 95 L463.1 100 L466 115 L469.75 133.75 L472 150 L474.75 171.25 L477.25 200 L479.1 210 L480.4 223.75 L482.9 237.5 L485.6 246 L488.5 240 L492.25 228.75 L496 220 L499.1 216.9 L501.6 216.25 L504.75 218.1 L507.5 223 L510.5 230.5 L512.75 235 L515 236.9 L518 237.4 L521 236.5 L524.75 234.25 L527.75 231.6 L530 230.65 L533 230.65 L536 231.4 L537.35 232"/>
<g class="ax">
<line x1="22.5" y1="0" x2="22.5" y2="465" stroke="#4c4c4c" stroke-width="1.15"/>
<line x1="586.5" y1="0" x2="586.5" y2="465"/>
<line x1="22" y1="326.5" x2="587" y2="326.5"/>
<line x1="22" y1="464.5" x2="587" y2="464.5"/>
<line x1="22" y1="472.5" x2="586.5" y2="472.5"/>
<line x1="21.1" y1="322.5" x2="22.5" y2="322.5" stroke="#5a5a5a"/>
<line x1="586.5" y1="322.5" x2="587.9" y2="322.5" stroke="#5a5a5a"/>
<line x1="21.1" y1="287.5" x2="22.5" y2="287.5" stroke="#5a5a5a"/>
<line x1="586.5" y1="287.5" x2="587.9" y2="287.5" stroke="#5a5a5a"/>
<line x1="18.8" y1="259.5" x2="22.5" y2="259.5"/>
<line x1="586.5" y1="259.5" x2="590.2" y2="259.5"/>
<line x1="21.1" y1="237.5" x2="22.5" y2="237.5" stroke="#5a5a5a"/>
<line x1="586.5" y1="237.5" x2="587.9" y2="237.5" stroke="#5a5a5a"/>
<line x1="21.1" y1="218.5" x2="22.5" y2="218.5" stroke="#5a5a5a"/>
<line x1="586.5" y1="218.5" x2="587.9" y2="218.5" stroke="#5a5a5a"/>
<line x1="21.1" y1="202.5" x2="22.5" y2="202.5" stroke="#5a5a5a"/>
<line x1="586.5" y1="202.5" x2="587.9" y2="202.5" stroke="#5a5a5a"/>
<line x1="21.1" y1="187.5" x2="22.5" y2="187.5" stroke="#5a5a5a"/>
<line x1="586.5" y1="187.5" x2="587.9" y2="187.5" stroke="#5a5a5a"/>
<line x1="18.8" y1="174.5" x2="22.5" y2="174.5"/>
<line x1="586.5" y1="174.5" x2="590.2" y2="174.5"/>
<line x1="21.1" y1="162.5" x2="22.5" y2="162.5" stroke="#5a5a5a"/>
<line x1="586.5" y1="162.5" x2="587.9" y2="162.5" stroke="#5a5a5a"/>
<line x1="21.1" y1="152.5" x2="22.5" y2="152.5" stroke="#5a5a5a"/>
<line x1="586.5" y1="152.5" x2="587.9" y2="152.5" stroke="#5a5a5a"/>
<line x1="21.1" y1="142.5" x2="22.5" y2="142.5" stroke="#5a5a5a"/>
<line x1="586.5" y1="142.5" x2="587.9" y2="142.5" stroke="#5a5a5a"/>
<line x1="21.1" y1="133.5" x2="22.5" y2="133.5" stroke="#5a5a5a"/>
<line x1="586.5" y1="133.5" x2="587.9" y2="133.5" stroke="#5a5a5a"/>
<line x1="18.8" y1="124.5" x2="22.5" y2="124.5"/>
<line x1="586.5" y1="124.5" x2="590.2" y2="124.5"/>
<line x1="21.1" y1="116.5" x2="22.5" y2="116.5" stroke="#5a5a5a"/>
<line x1="586.5" y1="116.5" x2="587.9" y2="116.5" stroke="#5a5a5a"/>
<line x1="21.1" y1="109.5" x2="22.5" y2="109.5" stroke="#5a5a5a"/>
<line x1="586.5" y1="109.5" x2="587.9" y2="109.5" stroke="#5a5a5a"/>
<line x1="21.1" y1="102.5" x2="22.5" y2="102.5" stroke="#5a5a5a"/>
<line x1="586.5" y1="102.5" x2="587.9" y2="102.5" stroke="#5a5a5a"/>
<line x1="21.1" y1="95.5" x2="22.5" y2="95.5" stroke="#5a5a5a"/>
<line x1="586.5" y1="95.5" x2="587.9" y2="95.5" stroke="#5a5a5a"/>
<line x1="18.8" y1="89.5" x2="22.5" y2="89.5"/>
<line x1="586.5" y1="89.5" x2="590.2" y2="89.5"/>
<line x1="21.1" y1="83.5" x2="22.5" y2="83.5" stroke="#5a5a5a"/>
<line x1="586.5" y1="83.5" x2="587.9" y2="83.5" stroke="#5a5a5a"/>
<line x1="21.1" y1="77.5" x2="22.5" y2="77.5" stroke="#5a5a5a"/>
<line x1="586.5" y1="77.5" x2="587.9" y2="77.5" stroke="#5a5a5a"/>
<line x1="21.1" y1="72.5" x2="22.5" y2="72.5" stroke="#5a5a5a"/>
<line x1="586.5" y1="72.5" x2="587.9" y2="72.5" stroke="#5a5a5a"/>
<line x1="21.1" y1="67.5" x2="22.5" y2="67.5" stroke="#5a5a5a"/>
<line x1="586.5" y1="67.5" x2="587.9" y2="67.5" stroke="#5a5a5a"/>
<line x1="18.8" y1="62.5" x2="22.5" y2="62.5"/>
<line x1="586.5" y1="62.5" x2="590.2" y2="62.5"/>
<line x1="21.1" y1="57.5" x2="22.5" y2="57.5" stroke="#5a5a5a"/>
<line x1="586.5" y1="57.5" x2="587.9" y2="57.5" stroke="#5a5a5a"/>
<line x1="21.1" y1="52.5" x2="22.5" y2="52.5" stroke="#5a5a5a"/>
<line x1="586.5" y1="52.5" x2="587.9" y2="52.5" stroke="#5a5a5a"/>
<line x1="21.1" y1="48.5" x2="22.5" y2="48.5" stroke="#5a5a5a"/>
<line x1="586.5" y1="48.5" x2="587.9" y2="48.5" stroke="#5a5a5a"/>
<line x1="21.1" y1="44.5" x2="22.5" y2="44.5" stroke="#5a5a5a"/>
<line x1="586.5" y1="44.5" x2="587.9" y2="44.5" stroke="#5a5a5a"/>
<line x1="18.8" y1="39.5" x2="22.5" y2="39.5"/>
<line x1="586.5" y1="39.5" x2="590.2" y2="39.5"/>
<line x1="21.1" y1="35.5" x2="22.5" y2="35.5" stroke="#5a5a5a"/>
<line x1="586.5" y1="35.5" x2="587.9" y2="35.5" stroke="#5a5a5a"/>
<line x1="21.1" y1="31.5" x2="22.5" y2="31.5" stroke="#5a5a5a"/>
<line x1="586.5" y1="31.5" x2="587.9" y2="31.5" stroke="#5a5a5a"/>
<line x1="21.1" y1="28.5" x2="22.5" y2="28.5" stroke="#5a5a5a"/>
<line x1="586.5" y1="28.5" x2="587.9" y2="28.5" stroke="#5a5a5a"/>
<line x1="21.1" y1="24.5" x2="22.5" y2="24.5" stroke="#5a5a5a"/>
<line x1="586.5" y1="24.5" x2="587.9" y2="24.5" stroke="#5a5a5a"/>
<line x1="18.8" y1="20.5" x2="22.5" y2="20.5"/>
<line x1="586.5" y1="20.5" x2="590.2" y2="20.5"/>
<line x1="21.1" y1="17.5" x2="22.5" y2="17.5" stroke="#5a5a5a"/>
<line x1="586.5" y1="17.5" x2="587.9" y2="17.5" stroke="#5a5a5a"/>
<line x1="21.1" y1="14.5" x2="22.5" y2="14.5" stroke="#5a5a5a"/>
<line x1="586.5" y1="14.5" x2="587.9" y2="14.5" stroke="#5a5a5a"/>
<line x1="21.1" y1="10.5" x2="22.5" y2="10.5" stroke="#5a5a5a"/>
<line x1="586.5" y1="10.5" x2="587.9" y2="10.5" stroke="#5a5a5a"/>
<line x1="21.1" y1="7.5" x2="22.5" y2="7.5" stroke="#5a5a5a"/>
<line x1="586.5" y1="7.5" x2="587.9" y2="7.5" stroke="#5a5a5a"/>
<line x1="18.8" y1="4.5" x2="22.5" y2="4.5"/>
<line x1="586.5" y1="4.5" x2="590.2" y2="4.5"/>
<line x1="21.1" y1="1.5" x2="22.5" y2="1.5" stroke="#5a5a5a"/>
<line x1="586.5" y1="1.5" x2="587.9" y2="1.5" stroke="#5a5a5a"/>
<line x1="21.1" y1="461.5" x2="22.5" y2="461.5" stroke="#5a5a5a"/>
<line x1="586.5" y1="461.5" x2="587.9" y2="461.5" stroke="#5a5a5a"/>
<line x1="21.1" y1="456.5" x2="22.5" y2="456.5" stroke="#5a5a5a"/>
<line x1="586.5" y1="456.5" x2="587.9" y2="456.5" stroke="#5a5a5a"/>
<line x1="21.1" y1="451.5" x2="22.5" y2="451.5" stroke="#5a5a5a"/>
<line x1="586.5" y1="451.5" x2="587.9" y2="451.5" stroke="#5a5a5a"/>
<line x1="21.1" y1="446.5" x2="22.5" y2="446.5" stroke="#5a5a5a"/>
<line x1="586.5" y1="446.5" x2="587.9" y2="446.5" stroke="#5a5a5a"/>
<line x1="18.8" y1="441.5" x2="22.5" y2="441.5"/>
<line x1="586.5" y1="441.5" x2="590.2" y2="441.5"/>
<line x1="21.1" y1="436.5" x2="22.5" y2="436.5" stroke="#5a5a5a"/>
<line x1="586.5" y1="436.5" x2="587.9" y2="436.5" stroke="#5a5a5a"/>
<line x1="21.1" y1="432.5" x2="22.5" y2="432.5" stroke="#5a5a5a"/>
<line x1="586.5" y1="432.5" x2="587.9" y2="432.5" stroke="#5a5a5a"/>
<line x1="21.1" y1="427.5" x2="22.5" y2="427.5" stroke="#5a5a5a"/>
<line x1="586.5" y1="427.5" x2="587.9" y2="427.5" stroke="#5a5a5a"/>
<line x1="21.1" y1="422.5" x2="22.5" y2="422.5" stroke="#5a5a5a"/>
<line x1="586.5" y1="422.5" x2="587.9" y2="422.5" stroke="#5a5a5a"/>
<line x1="18.8" y1="417.5" x2="22.5" y2="417.5"/>
<line x1="586.5" y1="417.5" x2="590.2" y2="417.5"/>
<line x1="21.1" y1="412.5" x2="22.5" y2="412.5" stroke="#5a5a5a"/>
<line x1="586.5" y1="412.5" x2="587.9" y2="412.5" stroke="#5a5a5a"/>
<line x1="21.1" y1="407.5" x2="22.5" y2="407.5" stroke="#5a5a5a"/>
<line x1="586.5" y1="407.5" x2="587.9" y2="407.5" stroke="#5a5a5a"/>
<line x1="21.1" y1="402.5" x2="22.5" y2="402.5" stroke="#5a5a5a"/>
<line x1="586.5" y1="402.5" x2="587.9" y2="402.5" stroke="#5a5a5a"/>
<line x1="21.1" y1="398.5" x2="22.5" y2="398.5" stroke="#5a5a5a"/>
<line x1="586.5" y1="398.5" x2="587.9" y2="398.5" stroke="#5a5a5a"/>
<line x1="18.8" y1="393.5" x2="22.5" y2="393.5"/>
<line x1="586.5" y1="393.5" x2="590.2" y2="393.5"/>
<line x1="21.1" y1="388.5" x2="22.5" y2="388.5" stroke="#5a5a5a"/>
<line x1="586.5" y1="388.5" x2="587.9" y2="388.5" stroke="#5a5a5a"/>
<line x1="21.1" y1="383.5" x2="22.5" y2="383.5" stroke="#5a5a5a"/>
<line x1="586.5" y1="383.5" x2="587.9" y2="383.5" stroke="#5a5a5a"/>
<line x1="21.1" y1="378.5" x2="22.5" y2="378.5" stroke="#5a5a5a"/>
<line x1="586.5" y1="378.5" x2="587.9" y2="378.5" stroke="#5a5a5a"/>
<line x1="21.1" y1="373.5" x2="22.5" y2="373.5" stroke="#5a5a5a"/>
<line x1="586.5" y1="373.5" x2="587.9" y2="373.5" stroke="#5a5a5a"/>
<line x1="18.8" y1="368.5" x2="22.5" y2="368.5"/>
<line x1="586.5" y1="368.5" x2="590.2" y2="368.5"/>
<line x1="21.1" y1="363.5" x2="22.5" y2="363.5" stroke="#5a5a5a"/>
<line x1="586.5" y1="363.5" x2="587.9" y2="363.5" stroke="#5a5a5a"/>
<line x1="21.1" y1="359.5" x2="22.5" y2="359.5" stroke="#5a5a5a"/>
<line x1="586.5" y1="359.5" x2="587.9" y2="359.5" stroke="#5a5a5a"/>
<line x1="21.1" y1="354.5" x2="22.5" y2="354.5" stroke="#5a5a5a"/>
<line x1="586.5" y1="354.5" x2="587.9" y2="354.5" stroke="#5a5a5a"/>
<line x1="21.1" y1="349.5" x2="22.5" y2="349.5" stroke="#5a5a5a"/>
<line x1="586.5" y1="349.5" x2="587.9" y2="349.5" stroke="#5a5a5a"/>
<line x1="18.8" y1="344.5" x2="22.5" y2="344.5"/>
<line x1="586.5" y1="344.5" x2="590.2" y2="344.5"/>
<line x1="21.1" y1="339.5" x2="22.5" y2="339.5" stroke="#5a5a5a"/>
<line x1="586.5" y1="339.5" x2="587.9" y2="339.5" stroke="#5a5a5a"/>
<line x1="21.1" y1="334.5" x2="22.5" y2="334.5" stroke="#5a5a5a"/>
<line x1="586.5" y1="334.5" x2="587.9" y2="334.5" stroke="#5a5a5a"/>
<line x1="21.1" y1="329.5" x2="22.5" y2="329.5" stroke="#5a5a5a"/>
<line x1="586.5" y1="329.5" x2="587.9" y2="329.5" stroke="#5a5a5a"/>
<line x1="40.5" y1="464.5" x2="40.5" y2="472.5"/>
<line x1="62.5" y1="464.5" x2="62.5" y2="472.5"/>
<line x1="83.5" y1="464.5" x2="83.5" y2="472.5"/>
<line x1="105.5" y1="464.5" x2="105.5" y2="472.5"/>
<line x1="127.5" y1="464.5" x2="127.5" y2="472.5"/>
<line x1="148.5" y1="464.5" x2="148.5" y2="472.5"/>
<line x1="169.5" y1="464.5" x2="169.5" y2="472.5"/>
<line x1="191.5" y1="464.5" x2="191.5" y2="472.5"/>
<line x1="212.5" y1="464.5" x2="212.5" y2="472.5"/>
<line x1="233.5" y1="464.5" x2="233.5" y2="472.5"/>
<line x1="255.5" y1="464.5" x2="255.5" y2="472.5"/>
<line x1="276.5" y1="464.5" x2="276.5" y2="472.5"/>
<line x1="298.5" y1="464.5" x2="298.5" y2="472.5"/>
<line x1="314.5" y1="464.5" x2="314.5" y2="472.5"/>
<line x1="336.5" y1="464.5" x2="336.5" y2="472.5"/>
<line x1="357.5" y1="464.5" x2="357.5" y2="472.5"/>
<line x1="378.5" y1="464.5" x2="378.5" y2="472.5"/>
<line x1="400.5" y1="464.5" x2="400.5" y2="472.5"/>
<line x1="421.5" y1="464.5" x2="421.5" y2="472.5"/>
<line x1="442.5" y1="464.5" x2="442.5" y2="472.5"/>
<line x1="464.5" y1="464.5" x2="464.5" y2="472.5"/>
<line x1="490.5" y1="464.5" x2="490.5" y2="472.5"/>
<line x1="507.5" y1="464.5" x2="507.5" y2="472.5"/>
<line x1="528.5" y1="464.5" x2="528.5" y2="472.5"/>
<line x1="549.5" y1="464.5" x2="549.5" y2="472.5"/>
<line x1="571.5" y1="464.5" x2="571.5" y2="472.5"/>
<line x1="67.5" y1="464.5" x2="67.5" y2="480"/>
<line x1="152.5" y1="464.5" x2="152.5" y2="480"/>
<line x1="251" y1="464.5" x2="251" y2="480"/>
<line x1="336.5" y1="464.5" x2="336.5" y2="480"/>
<line x1="430.5" y1="464.5" x2="430.5" y2="480"/>
<line x1="503" y1="464.5" x2="503" y2="480"/>
<path d="M1.5 463.5V457.5H18.5V463.5"/>
<path d="M588.5 463.5V457.5H604.5V463.5"/>
</g>
<text x="3.25" y="8.05" text-anchor="start" textLength="13.2" lengthAdjust="spacingAndGlyphs">4000</text>
<text x="592.3" y="8.05" text-anchor="start" textLength="14.2" lengthAdjust="spacingAndGlyphs">4000</text>
<text x="3.25" y="24.43" text-anchor="start" textLength="13.2" lengthAdjust="spacingAndGlyphs">3500</text>
<text x="592.3" y="24.43" text-anchor="start" textLength="14.2" lengthAdjust="spacingAndGlyphs">3500</text>
<text x="3.25" y="43.35" text-anchor="start" textLength="13.2" lengthAdjust="spacingAndGlyphs">3000</text>
<text x="592.3" y="43.35" text-anchor="start" textLength="14.2" lengthAdjust="spacingAndGlyphs">3000</text>
<text x="3.25" y="65.72" text-anchor="start" textLength="13.2" lengthAdjust="spacingAndGlyphs">2500</text>
<text x="592.3" y="65.72" text-anchor="start" textLength="14.2" lengthAdjust="spacingAndGlyphs">2500</text>
<text x="3.25" y="93.1" text-anchor="start" textLength="13.2" lengthAdjust="spacingAndGlyphs">2000</text>
<text x="592.3" y="93.1" text-anchor="start" textLength="14.2" lengthAdjust="spacingAndGlyphs">2000</text>
<text x="3.25" y="128.4" text-anchor="start" textLength="13.2" lengthAdjust="spacingAndGlyphs">1500</text>
<text x="592.3" y="128.4" text-anchor="start" textLength="14.2" lengthAdjust="spacingAndGlyphs">1500</text>
<text x="3.25" y="178.15" text-anchor="start" textLength="13.2" lengthAdjust="spacingAndGlyphs">1000</text>
<text x="592.3" y="178.15" text-anchor="start" textLength="14.2" lengthAdjust="spacingAndGlyphs">1000</text>
<text x="6.55" y="263.2" text-anchor="start" textLength="9.9" lengthAdjust="spacingAndGlyphs">500</text>
<text x="596.45" y="263.2" text-anchor="start" textLength="10.65" lengthAdjust="spacingAndGlyphs">500</text>
<text x="6.55" y="445.85" text-anchor="start" textLength="9.9" lengthAdjust="spacingAndGlyphs">500</text>
<text x="596.45" y="445.85" text-anchor="start" textLength="10.65" lengthAdjust="spacingAndGlyphs">500</text>
<text x="3.25" y="421.5" text-anchor="start" textLength="13.2" lengthAdjust="spacingAndGlyphs">1000</text>
<text x="592.3" y="421.5" text-anchor="start" textLength="14.2" lengthAdjust="spacingAndGlyphs">1000</text>
<text x="3.25" y="397.15" text-anchor="start" textLength="13.2" lengthAdjust="spacingAndGlyphs">1500</text>
<text x="592.3" y="397.15" text-anchor="start" textLength="14.2" lengthAdjust="spacingAndGlyphs">1500</text>
<text x="3.25" y="372.8" text-anchor="start" textLength="13.2" lengthAdjust="spacingAndGlyphs">2000</text>
<text x="592.3" y="372.8" text-anchor="start" textLength="14.2" lengthAdjust="spacingAndGlyphs">2000</text>
<text x="3.25" y="348.45" text-anchor="start" textLength="13.2" lengthAdjust="spacingAndGlyphs">2500</text>
<text x="592.3" y="348.45" text-anchor="start" textLength="14.2" lengthAdjust="spacingAndGlyphs">2500</text>
<text x="2.6" y="461.6" text-anchor="start" class="sm" textLength="14.6" lengthAdjust="spacingAndGlyphs">x10000</text>
<text x="589.4" y="461.6" text-anchor="start" class="sm" textLength="14.4" lengthAdjust="spacingAndGlyphs">x10000</text>
<text x="21.3" y="470.9" text-anchor="start" class="t3" textLength="5.9" lengthAdjust="spacingAndGlyphs"><tspan fill="#aab4cc" stroke="none">1</tspan>7</text>
<text x="42.1" y="470.9" text-anchor="start" class="t3" textLength="7" lengthAdjust="spacingAndGlyphs">24</text>
<text x="63.6" y="470.9" text-anchor="start" class="t3" textLength="7" lengthAdjust="spacingAndGlyphs">31</text>
<text x="85.1" y="470.9" text-anchor="start" class="t3" textLength="3.5" lengthAdjust="spacingAndGlyphs">7</text>
<text x="106.6" y="470.9" text-anchor="start" class="t3" textLength="7" lengthAdjust="spacingAndGlyphs">14</text>
<text x="128.35" y="470.9" text-anchor="start" class="t3" textLength="7" lengthAdjust="spacingAndGlyphs">21</text>
<text x="149.6" y="470.9" text-anchor="start" class="t3" textLength="7" lengthAdjust="spacingAndGlyphs">28</text>
<text x="170.85" y="470.9" text-anchor="start" class="t3" textLength="3.5" lengthAdjust="spacingAndGlyphs">7</text>
<text x="192.5" y="470.9" text-anchor="start" class="t3" textLength="7" lengthAdjust="spacingAndGlyphs">14</text>
<text x="213.35" y="470.9" text-anchor="start" class="t3" textLength="7" lengthAdjust="spacingAndGlyphs">21</text>
<text x="234.6" y="470.9" text-anchor="start" class="t3" textLength="7" lengthAdjust="spacingAndGlyphs">28</text>
<text x="256.6" y="470.9" text-anchor="start" class="t3" textLength="3.5" lengthAdjust="spacingAndGlyphs">4</text>
<text x="277.6" y="470.9" text-anchor="start" class="t3" textLength="7" lengthAdjust="spacingAndGlyphs">11</text>
<text x="299.5" y="470.9" text-anchor="start" class="t3" textLength="7" lengthAdjust="spacingAndGlyphs">18</text>
<text x="316" y="470.9" text-anchor="start" class="t3" textLength="7" lengthAdjust="spacingAndGlyphs">25</text>
<text x="337.6" y="470.9" text-anchor="start" class="t3" textLength="3.5" lengthAdjust="spacingAndGlyphs">2</text>
<text x="358.6" y="470.9" text-anchor="start" class="t3" textLength="3.5" lengthAdjust="spacingAndGlyphs">9</text>
<text x="379.7" y="470.9" text-anchor="start" class="t3" textLength="7" lengthAdjust="spacingAndGlyphs">16</text>
<text x="401.5" y="470.9" text-anchor="start" class="t3" textLength="7" lengthAdjust="spacingAndGlyphs">23</text>
<text x="422.6" y="470.9" text-anchor="start" class="t3" textLength="7" lengthAdjust="spacingAndGlyphs">30</text>
<text x="443.85" y="470.9" text-anchor="start" class="t3" textLength="3.5" lengthAdjust="spacingAndGlyphs">6</text>
<text x="465.6" y="470.9" text-anchor="start" class="t3" textLength="7" lengthAdjust="spacingAndGlyphs">13</text>
<text x="491.5" y="470.9" text-anchor="start" class="t3" textLength="7" lengthAdjust="spacingAndGlyphs">28</text>
<text x="508.6" y="470.9" text-anchor="start" class="t3" textLength="3.5" lengthAdjust="spacingAndGlyphs">4</text>
<text x="529.6" y="470.9" text-anchor="start" class="t3" textLength="7" lengthAdjust="spacingAndGlyphs">11</text>
<text x="550.7" y="470.9" text-anchor="start" class="t3" textLength="7" lengthAdjust="spacingAndGlyphs">18</text>
<text x="572.6" y="470.9" text-anchor="start" class="t3" textLength="7" lengthAdjust="spacingAndGlyphs">25</text>
<text x="68.3" y="478.5" text-anchor="start" class="t3" textLength="25" lengthAdjust="spacingAndGlyphs">February</text>
<text x="153.3" y="478.5" text-anchor="start" class="t3" textLength="17.6" lengthAdjust="spacingAndGlyphs">March</text>
<text x="251.8" y="478.5" text-anchor="start" class="t3" textLength="12.6" lengthAdjust="spacingAndGlyphs">April</text>
<text x="337.3" y="478.5" text-anchor="start" class="t3" textLength="12" lengthAdjust="spacingAndGlyphs">May</text>
<text x="431.3" y="478.5" text-anchor="start" class="t3" textLength="13.3" lengthAdjust="spacingAndGlyphs">June</text>
<text x="503.8" y="478.5" text-anchor="start" class="t3" textLength="11.3" lengthAdjust="spacingAndGlyphs">July</text>
<rect x="219" y="0" width="170.5" height="8.8" fill="#fff"/>
<text x="219.9" y="6.8" text-anchor="start" class="t2" textLength="168.6" lengthAdjust="spacingAndGlyphs">LA_POLAR (622.450, 630.000, 570.000, 580.000, -42.4500)</text>
</svg>
</body></html>
